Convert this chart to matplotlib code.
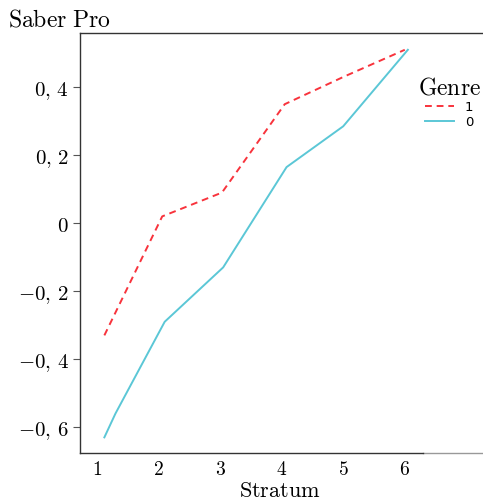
import matplotlib
matplotlib.use("Agg")
import matplotlib.pyplot as plt

# Saber Pro score by stratum and genre
x_genre1 = [1.12, 2.06, 3.03, 4.05, 5.0, 6.0]
y_genre1 = [-0.33, 0.02, 0.09, 0.35, 0.43, 0.51]
x_genre0 = [1.12, 1.3, 2.1, 3.05, 4.08, 5.0, 6.05]
y_genre0 = [-0.63, -0.56, -0.29, -0.13, 0.165, 0.285, 0.51]

x_ticks = [1, 2, 3, 4, 5, 6]
y_ticks = [-0.6, -0.4, -0.2, 0, 0.2, 0.4]

plt.rcParams["mathtext.fontset"] = "cm"


def tick_label(v):
    if v == 0:
        return "$0$"
    s = ("%.1f" % v).replace(".", ",\\,")
    return "$" + s + "$"


def make_plot():
    fig = plt.figure(figsize=(4.83, 5.02), dpi=100)
    ax = fig.add_axes([0.1656, 0.0956, 0.87, 0.8364])
    ax.plot(x_genre1, y_genre1, color="#f8333c", linestyle=(0, (3.5, 2.5)), linewidth=1.4, label="1")
    ax.plot(x_genre0, y_genre0, color="#5bc7d6", linewidth=1.4, label="0")
    ax.set_xlim(0.724, 7.55)
    ax.set_ylim(-0.676, 0.559)
    ax.set_xticks(x_ticks)
    ax.set_xticklabels(["$%d$" % v for v in x_ticks], fontsize=14)
    ax.set_yticks(y_ticks)
    ax.set_yticklabels([tick_label(v) for v in y_ticks], fontsize=15)
    ax.tick_params(axis="x", length=0, pad=4)
    ax.tick_params(axis="y", length=5, width=0.8, color="#555555", pad=3)
    for sp in ax.spines.values():
        sp.set_color("#333333")
        sp.set_linewidth(1.0)
    ax.spines["bottom"].set_bounds(0.724, 6.3)
    ax.plot([6.3, 7.55], [-0.676, -0.676], color="#999999", linewidth=1.0, clip_on=False)
    fig.text(0.58, 0.002, r"$\mathrm{Stratum}$", fontsize=16, ha="center", va="bottom")
    fig.text(0.017, 0.962, r"$\mathrm{Saber\ Pro}$", fontsize=17, va="center")
    ax.legend(loc="upper left", bbox_to_anchor=(0.865, 0.85), bbox_transform=fig.transFigure,
              frameon=False, fontsize=9.5, title=r"$\mathrm{Genre}$", title_fontsize=17,
              handlelength=2.2, labelspacing=0.15, borderaxespad=0, borderpad=0)
    fig.savefig("out.png", dpi=100)


def main():
    make_plot()


if __name__ == "__main__":
    main()
